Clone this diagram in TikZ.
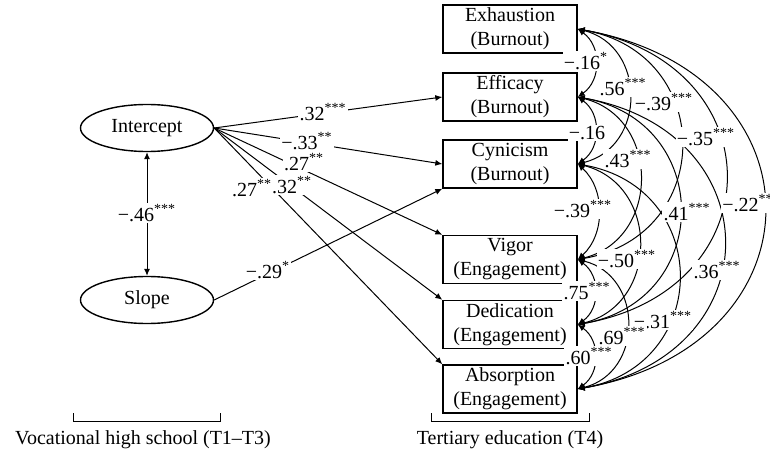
\documentclass[tikz,border=0pt]{standalone}
\usepackage{fontspec}
\setmainfont{Liberation Serif}
\usepackage{tikz}
\usetikzlibrary{arrows.meta, shapes.geometric}

\begin{document}
\begin{tikzpicture}
	[%
	x=0.5pt, y=-0.5pt,
	latent/.style  ={ellipse,	draw,	line width=0.7pt,	inner sep=0pt,	minimum width=66.5pt,	minimum height=23.5pt,	font=\fontsize{10}{12}\selectfont},%
	observed/.style={rectangle,	draw,	line width=0.7pt,	inner sep=0pt,	minimum width=67pt,	minimum height=24pt,	align=center,	font=\fontsize{10}{12}\selectfont},%
	coef/.style    ={fill=white,	inner sep=0.6pt,	font=\fontsize{10}{12}\selectfont},%
	regpath/.style ={line width=0.5pt,	-{Latex[length=3.5pt,width=3pt]}},%
	covarc/.style  ={line width=0.5pt,	{Latex[length=3.5pt,width=3pt]}-{Latex[length=3.5pt,width=3pt]}},%
	]

	\newcommand{\xlat}{147}
	\newcommand{\xobs}{510}

	\useasboundingbox (0,0) rectangle (770,454);

	% nodes
	\node (icpt)  at (\xlat,128) [latent] {Intercept};
	\node (slope) at (\xlat,300) [latent] {Slope};

	\foreach \n/\y/\t/\f in {exh/29/Exhaustion/Burnout, eff/97/Efficacy/Burnout, cyn/164/Cynicism/Burnout,%
		vig/259.5/Vigor/Engagement, ded/324.5/Dedication/Engagement, absn/389/Absorption/Engagement}%
		\node (\n) at (\xobs,\y) [observed] {\t\\(\f)};

	% interconnections
	% growth factors - outcomes
	\draw [covarc] (icpt) -- (slope);
	\draw [regpath] (icpt.east) -- (eff.west);
	\draw [regpath] (icpt.east) -- (cyn.west);
	\draw [regpath] (icpt.east) -- (vig.north west);
	\draw [regpath] (icpt.east) -- (ded.north west);
	\draw [regpath] (icpt.east) -- (absn.north west);
	\draw [regpath] (slope.east) -- (cyn.south west);

	% correlations between outcomes
	\foreach \a/\b/\ang/\loose in {exh/eff/55/1.1, eff/cyn/55/1.1, cyn/vig/48/1.0, vig/ded/55/1.1, ded/absn/55/1.1,%
		exh/cyn/76/1.35, eff/vig/76/1.35, cyn/ded/76/1.35, vig/absn/76/1.35,%
		exh/vig/80/1.56, eff/ded/80/1.56, cyn/absn/80/1.56,%
		exh/ded/80/1.74, eff/absn/80/1.74, exh/absn/80/1.8}%
		\draw [covarc] (\a.east) to [bend left=\ang, looseness=\loose] (\b.east);

	% coefficients
	\node (cIS)   at (147,213) [coef] {−.46\textsuperscript{***}};
	\node (cIEf)  at (323,112) [coef] {.32\textsuperscript{***}};
	\node (cICy)  at (307,141) [coef] {−.33\textsuperscript{**}};
	\node (cIVi)  at (304,162) [coef] {.27\textsuperscript{**}};
	\node (cIDe)  at (292,185) [coef] {.32\textsuperscript{**}};
	\node (cIAb)  at (252,188) [coef] {.27\textsuperscript{**}};
	\node (cSCy)  at (268,270) [coef] {−.29\textsuperscript{*}};

	\node (rExEf) at (586,61)  [coef] {−.16\textsuperscript{*}};
	\node (rExCy) at (623,87)  [coef] {.56\textsuperscript{***}};
	\node (rExVi) at (664,102) [coef] {−.39\textsuperscript{***}};
	\node (rExDe) at (706,137) [coef] {−.35\textsuperscript{***}};
	\node (rExAb) at (748,203) [coef] {−.22\textsuperscript{**}};
	\node (rEfCy) at (587,133) [coef] {−.16};
	\node (rEfVi) at (628,159) [coef] {.43\textsuperscript{***}};
	\node (rEfDe) at (687,212) [coef] {.41\textsuperscript{***}};
	\node (rEfAb) at (717,270) [coef] {.36\textsuperscript{***}};
	\node (rCyVi) at (583,209) [coef] {−.39\textsuperscript{***}};
	\node (rCyDe) at (627,259) [coef] {−.50\textsuperscript{***}};
	\node (rCyAb) at (663,320) [coef] {−.31\textsuperscript{***}};
	\node (rViDe) at (587,291) [coef] {.75\textsuperscript{***}};
	\node (rViAb) at (622,336) [coef] {.69\textsuperscript{***}};
	\node (rDeAb) at (589,356) [coef] {.60\textsuperscript{***}};

	% time frames
	\draw [line width=0.5pt] (73,413) |- (220,421) -- (220,413);
	\draw [line width=0.5pt] (431,413) |- (589,421) -- (589,413);
	\node (tvoc) at (143,440) [coef] {Vocational high school (T1–T3)};
	\node (tter) at (510,440) [coef] {Tertiary education (T4)};

\end{tikzpicture}
\end{document}
